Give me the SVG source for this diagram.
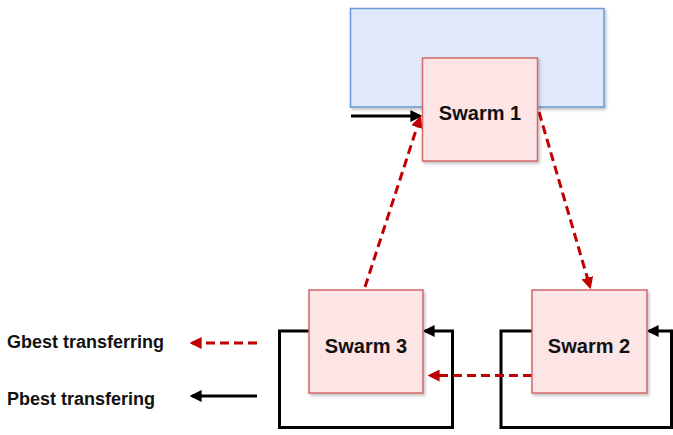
<svg xmlns="http://www.w3.org/2000/svg" width="673" height="435" viewBox="0 0 673 435">
  <style>
    .swarm rect { fill: #fde4e5; stroke: #d0686b; stroke-width: 1.5; }
    .swarm text, .legend text { font-family: "Liberation Sans", Arial, sans-serif; font-weight: bold; fill: #111; }
    .swarm text { font-size: 20px; text-anchor: middle; }
    .legend text { font-size: 18px; }
    .pbest { fill: none; stroke: #000; stroke-width: 3; marker-end: url(#arrowBlack); }
    .gbest { fill: none; stroke: #c00000; stroke-width: 3; stroke-dasharray: 9 5; marker-end: url(#arrowRed); }
  </style>
  <defs>
    <marker id="arrowBlack" viewBox="0 0 10 10" refX="8" refY="5" markerWidth="4" markerHeight="4" orient="auto" markerUnits="strokeWidth">
      <path d="M0,0 L10,5 L0,10 Z" fill="#000"/>
    </marker>
    <marker id="arrowRed" viewBox="0 0 10 10" refX="8" refY="5" markerWidth="4" markerHeight="4" orient="auto" markerUnits="strokeWidth">
      <path d="M0,0 L10,5 L0,10 Z" fill="#c00000"/>
    </marker>
    <filter id="shadow" x="-10%" y="-10%" width="130%" height="130%">
      <feDropShadow dx="1.5" dy="2" stdDeviation="1.5" flood-color="#000" flood-opacity="0.25"/>
    </filter>
  </defs>

  <!-- background panel behind Swarm 1 -->
  <g id="panel">
    <rect x="350.5" y="8.5" width="253.5" height="98.5" fill="#dfe9fb" stroke="#6b97d6" stroke-width="1.5" filter="url(#shadow)"/>
  </g>

  <!-- connectors -->
  <g id="connectors">
    <!-- incoming pbest to Swarm 1 -->
    <path class="pbest" d="M351,116 L420,116"/>
    <!-- Swarm 3 self loop -->
    <path class="pbest" d="M309,331 L279.5,331 L279.5,427.5 L452.5,427.5 L452.5,331 L425,331"/>
    <!-- Swarm 2 self loop -->
    <path class="pbest" d="M532,331 L501,331 L501,427.5 L671.5,427.5 L671.5,331 L649,331"/>
    <!-- gbest ring -->
    <path class="gbest" d="M539,112 L590,287"/>
    <path class="gbest" d="M532,375.5 L430,375.5"/>
    <path class="gbest" d="M365,287 L420,118"/>
  </g>

  <g id="swarm1" class="swarm">
    <rect x="422.5" y="58" width="115" height="103" filter="url(#shadow)"/>
    <text x="480" y="120">Swarm 1</text>
  </g>

  <g id="swarm2" class="swarm">
    <rect x="532" y="290" width="115" height="103" filter="url(#shadow)"/>
    <text x="589" y="353">Swarm 2</text>
  </g>

  <g id="swarm3" class="swarm">
    <rect x="309" y="290" width="114" height="103" filter="url(#shadow)"/>
    <text x="366" y="352.5">Swarm 3</text>
  </g>

  <g id="legend" class="legend">
    <text x="7" y="348">Gbest transferring</text>
    <path class="gbest" d="M257,343 L192,343"/>
    <text x="7" y="405">Pbest transfering</text>
    <path class="pbest" d="M257,396 L192,396"/>
  </g>
</svg>
